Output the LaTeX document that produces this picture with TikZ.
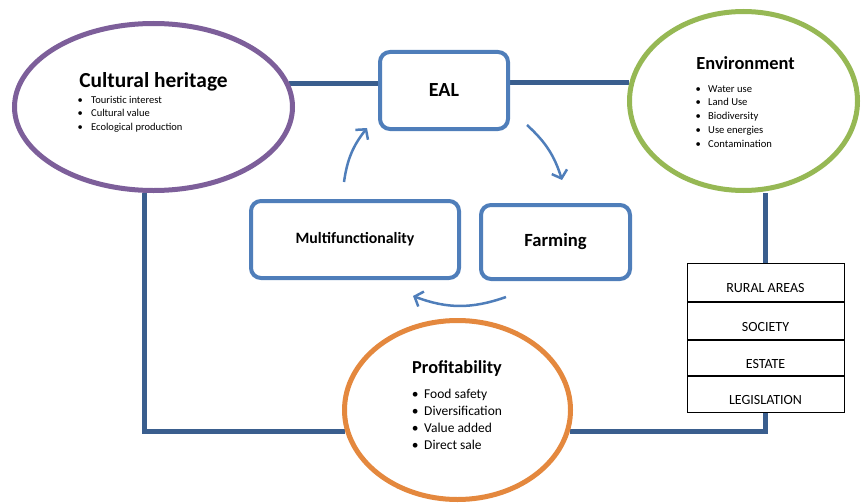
\documentclass[tikz,border=0pt]{standalone}
\usepackage{fontspec}
\setmainfont{Carlito}
\usetikzlibrary{shapes.geometric,positioning,arrows.meta,backgrounds}
\definecolor{heritagepurple}{HTML}{7D5F9A}
\definecolor{envgreen}{HTML}{96B854}
\definecolor{profitorange}{HTML}{E4883E}
\definecolor{boxblue}{HTML}{4F7EBA}
\definecolor{linkblue}{HTML}{3A5E8E}
\newcommand{\itm}[2][13pt]{\makebox[#1][l]{\textbullet}#2}

\begin{document}
\begin{tikzpicture}[x=1pt,y=-1pt,
    bubble/.style={ellipse,draw,line width=5pt,fill=white,inner sep=0pt},
    stage/.style={draw=boxblue,line width=4pt,rounded corners=10pt,fill=white,font=\bfseries},
    tier/.style={draw,line width=1pt,minimum width=157pt,inner sep=0pt,text height=21pt,text depth=0pt,font=\fontsize{14}{14}\selectfont},
    points/.style={align=left,inner sep=0pt,anchor=north west},
    link/.style={draw=linkblue,line width=5pt},
    turn/.style={draw=boxblue,line width=2.5pt,-{Straight Barb[length=7pt,width=16pt]}}] %
  \useasboundingbox (0,0) rectangle (861,503);
  % the three outer themes
  \node[bubble,draw=heritagepurple,minimum width=278pt,minimum height=167pt] (cult) at (153.5,107) {} ; %
  \node[bubble,draw=envgreen,minimum width=228pt,minimum height=179pt] (env) at (743.5,101) {} ; %
  \node[bubble,draw=profitorange,minimum width=226pt,minimum height=179pt] (prof) at (457.5,410) {} ; %
  \node[font=\bfseries\fontsize{21.4}{21.4}\selectfont,anchor=base] (culttitle) at (153.5,87) {Cultural heritage};
  \node[points,font=\fontsize{10.5}{13.5}\selectfont] (cultlist) at (77.4,95.8) {\itm[13.6pt]{Touristic interest}\\ \itm[13.6pt]{Cultural value}\\ \itm[13.6pt]{Ecological production}};
  \node[font=\bfseries\fontsize{18.4}{18.4}\selectfont,anchor=base] (envtitle) at (745.5,69) {Environment};
  \node[points,font=\fontsize{10.6}{13.75}\selectfont] (envlist) at (695.4,85) {\itm[12.6pt]{Water use}\\ \itm[12.6pt]{Land Use}\\ \itm[12.6pt]{Biodiversity}\\ \itm[12.6pt]{Use energies}\\ \itm[12.6pt]{Contamination}};
  \node[font=\bfseries\fontsize{18.3}{18.3}\selectfont,anchor=base] (proftitle) at (457,373) {Profitability};
  \node[points,font=\fontsize{13.5}{17}\selectfont] (proflist) at (411.6,388.8) {\itm[12.4pt]{Food safety}\\ \itm[12.4pt]{Diversification}\\ \itm[12.4pt]{Value added}\\ \itm[12.4pt]{Direct sale}};
  % inner cycle
  \node[stage,minimum width=128pt,minimum height=77pt,font=\bfseries\fontsize{20}{20}\selectfont] (eal) at (444,90.5) {EAL};
  \node[stage,minimum width=208pt,minimum height=77pt,font=\bfseries\fontsize{15.8}{15.8}\selectfont] (multi) at (355,239.5) {Multifunctionality};
  \node[stage,minimum width=149pt,minimum height=74pt,font=\bfseries\fontsize{18.6}{18.6}\selectfont] (farm) at (555.5,242) {Farming};
  % stacked frame
  \node[tier,minimum height=38pt] (rural) at (765.5,282) {RURAL AREAS};
  \node[tier,minimum height=37pt,below=0pt of rural] (society) {SOCIETY};
  \node[tier,minimum height=35pt,below=0pt of society] (estate) {ESTATE};
  \node[tier,minimum height=36pt,below=0pt of estate] (legis) {LEGISLATION};
  \coordinate (a1) at (527,125);
  \coordinate (a2) at (562,180);
  \coordinate (b1) at (344,182);
  \coordinate (b2) at (367,128);
  \coordinate (c1) at (506,297);
  \coordinate (c2) at (413,296);
  \draw[turn] (a1) to[bend left=15] (a2);
  \draw[turn] (b1) to[bend left=15] (b2);
  \draw[turn] (c1) to[bend left=20] (c2);
  \begin{pgfonlayer}{background}
    \draw[link] (cult.10) -- (cult.10 -| eal.west);
    \draw[link] (eal.east |- env.171) -- (env.171);
    \draw[link] (cult.264) |- (prof.191);
    \draw[link] (prof.349) -| (legis.south);
    \draw[link] (rural.north) -- (rural.north |- env.south);
  \end{pgfonlayer}
\end{tikzpicture}
\end{document}
